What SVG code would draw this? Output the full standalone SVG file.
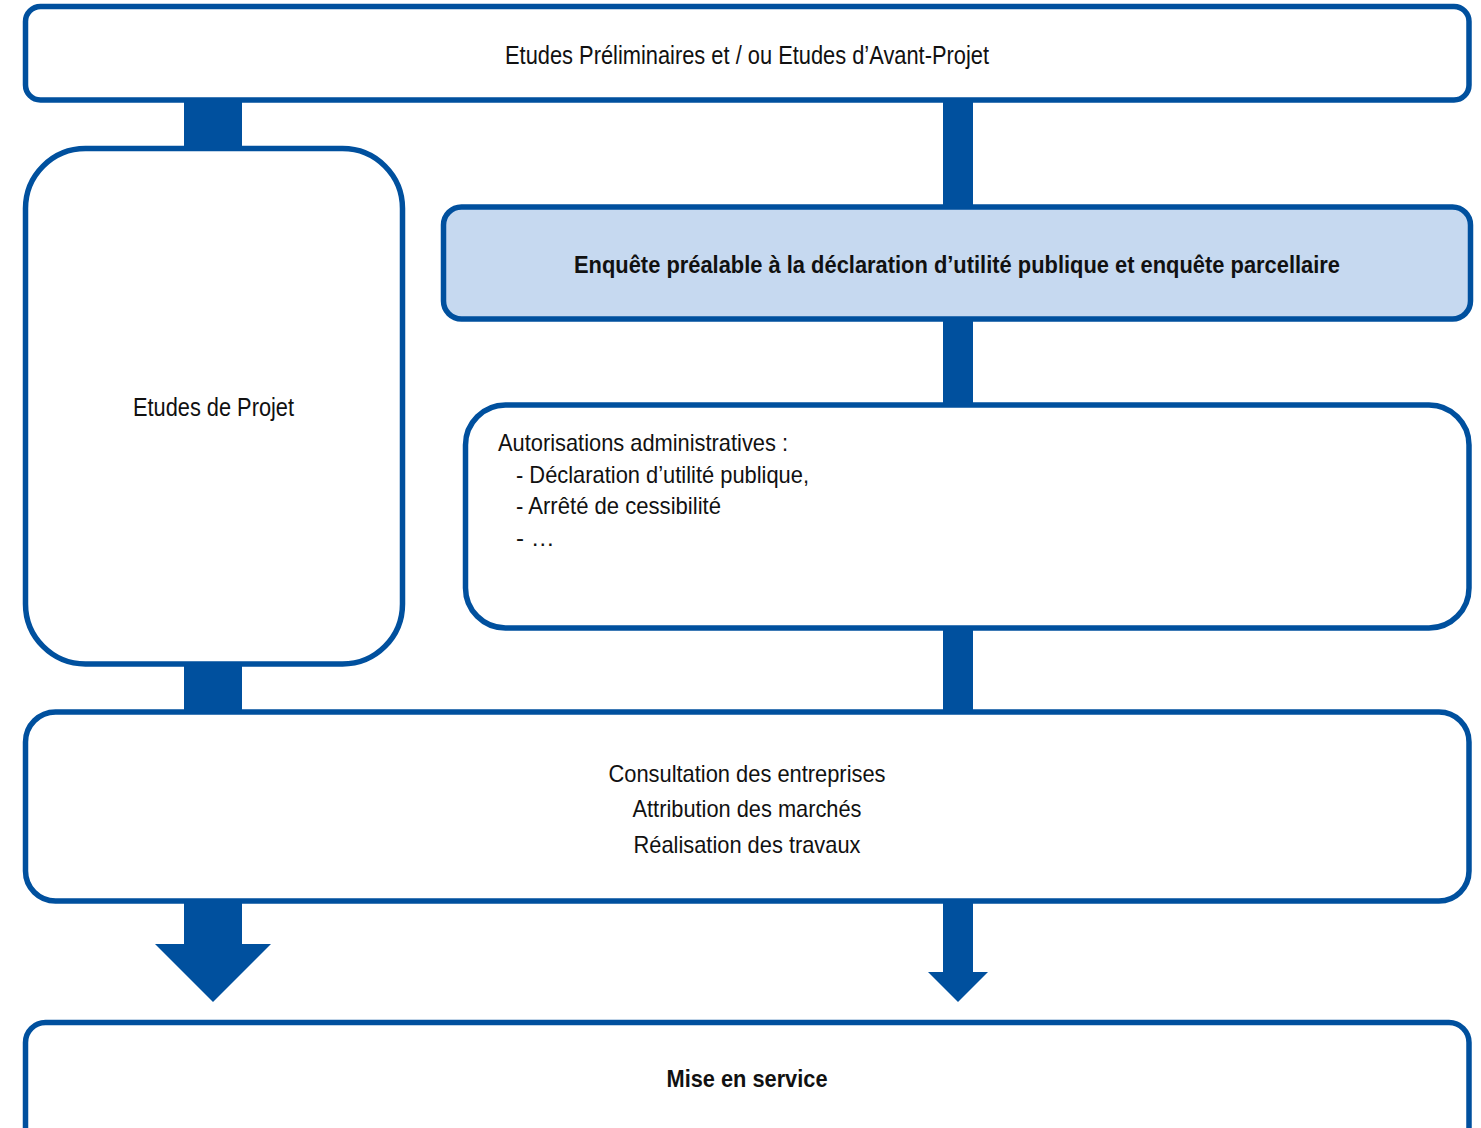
<svg xmlns="http://www.w3.org/2000/svg" width="1481" height="1128" viewBox="0 0 1481 1128">
<style>
.box{fill:#fff;stroke:#00509e;stroke-width:5.5}
.hl{fill:#c6d9f0;stroke:#00509e;stroke-width:5.5}
.conn{fill:#00509e;stroke:none}
text{font-family:"Liberation Sans Narrow","Liberation Sans",Arial,sans-serif;font-size:24px;fill:#111}
.c{text-anchor:middle}
.b{font-weight:bold}
</style>
<rect width="1481" height="1128" fill="#fff"/>
<g id="connectors">
<rect class="conn" x="184" y="100" width="58" height="50"/>
<rect class="conn" x="943" y="100" width="30" height="108"/>
<rect class="conn" x="943" y="318" width="30" height="88"/>
<rect class="conn" x="184" y="662" width="58" height="52"/>
<rect class="conn" x="943" y="627" width="30" height="87"/>
<polygon class="conn" points="184,900 242,900 242,944 271,944 213,1002 155,944 184,944"/>
<polygon class="conn" points="943,900 973,900 973,972 988,972 958,1002 928,972 943,972"/>
</g>
<g id="n1">
<rect class="box" x="25.5" y="6.5" width="1443.5" height="93.5" rx="15"/>
<text class="c" x="747" y="63.5" style="font-size:25.5px" textLength="484" lengthAdjust="spacingAndGlyphs">Etudes Préliminaires et / ou Etudes d’Avant-Projet</text>
</g>
<g id="n2">
<rect class="box" x="25.5" y="148.5" width="377" height="515.5" rx="60"/>
<text class="c" x="213.5" y="416" style="font-size:25px" textLength="161" lengthAdjust="spacingAndGlyphs">Etudes de Projet</text>
</g>
<g id="n3">
<rect class="hl" x="443.5" y="207" width="1027" height="112" rx="18"/>
<text class="c b" x="957" y="272.5" style="font-size:24.5px" textLength="766" lengthAdjust="spacingAndGlyphs">Enquête préalable à la déclaration d’utilité publique et enquête parcellaire</text>
</g>
<g id="n4">
<rect class="box" x="465.5" y="405" width="1003.5" height="223" rx="40"/>
<text x="498" y="451" textLength="290" lengthAdjust="spacingAndGlyphs">Autorisations administratives :</text>
<text x="516" y="483" textLength="293" lengthAdjust="spacingAndGlyphs">- Déclaration d’utilité publique,</text>
<text x="516" y="514" textLength="205" lengthAdjust="spacingAndGlyphs">- Arrêté de cessibilité</text>
<text x="516" y="546">- …</text>
</g>
<g id="n5">
<rect class="box" x="25.5" y="712" width="1443.5" height="189" rx="30"/>
<text class="c" x="747" y="782" textLength="277" lengthAdjust="spacingAndGlyphs">Consultation des entreprises</text>
<text class="c" x="747" y="817" textLength="229" lengthAdjust="spacingAndGlyphs">Attribution des marchés</text>
<text class="c" x="747" y="853" textLength="227" lengthAdjust="spacingAndGlyphs">Réalisation des travaux</text>
</g>
<g id="n6">
<rect class="box" x="25.5" y="1022.5" width="1443.5" height="140" rx="20"/>
<text class="c b" x="747" y="1087" textLength="161" lengthAdjust="spacingAndGlyphs">Mise en service</text>
</g>
</svg>
